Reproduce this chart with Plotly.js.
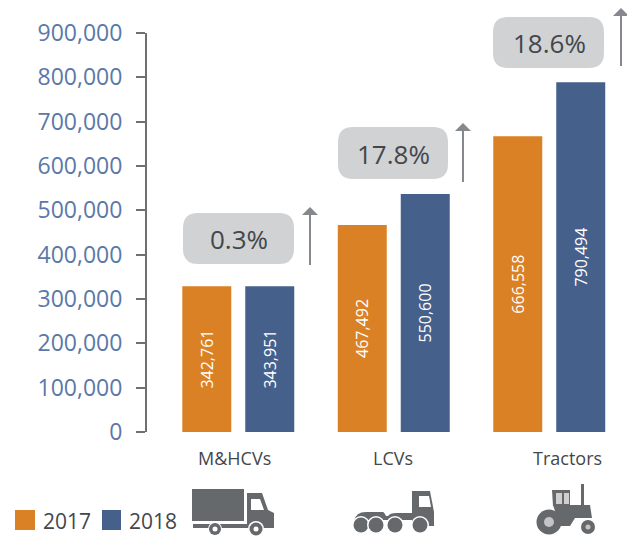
<!DOCTYPE html>
<html><head><meta charset="utf-8">
<script src="https://cdn.plot.ly/plotly-3.0.1.min.js"></script>
<style>html,body{margin:0;padding:0;background:#fff}#c{width:627px;height:536px}</style>
</head><body><div id="c"></div>
<script>
const categories = ["M&HCVs", "LCVs", "Tractors"];
const seriesNames = ["2017", "2018"];
// Bar heights
const heights2017 = [329000, 467000, 667000];
const heights2018 = [329000, 537000, 789000];
// Values printed inside the bars
const labels2017 = ["342,761", "467,492", "666,558"];
const labels2018 = ["343,951", "550,600", "790,494"];
const growth = ["0.3%", "17.8%", "18.6%"];
const tickValues = [0,100000,200000,300000,400000,500000,600000,700000,800000,900000];
const tickLabels = ["0","100,000","200,000","300,000","400,000","500,000","600,000","700,000","800,000","900,000"];

const W=627,H=536,L=147,R=0,T=33,B=104;
const FONT='"Open Sans", "Noto Sans", sans-serif';
const px=x=>(x-L)/(W-L-R), py=y=>1-(y-T)/(H-T-B);
const ORANGE='#DB8125',BLUE='#46608C',GREY='#D0D2D4',ARROW='#85898D',TXT='#43474B',ICON='#66696C';

function pill(x0,y0,x1,y1,r){
  const X=px,Y=py;
  return {type:'path',xref:'paper',yref:'paper',layer:'below',fillcolor:GREY,line:{width:0},
   path:`M${X(x0+r)},${Y(y0)} L${X(x1-r)},${Y(y0)} Q${X(x1)},${Y(y0)} ${X(x1)},${Y(y0+r)} L${X(x1)},${Y(y1-r)} Q${X(x1)},${Y(y1)} ${X(x1-r)},${Y(y1)} L${X(x0+r)},${Y(y1)} Q${X(x0)},${Y(y1)} ${X(x0)},${Y(y1-r)} L${X(x0)},${Y(y0+r)} Q${X(x0)},${Y(y0)} ${X(x0+r)},${Y(y0)} Z`};
}
function arrow(x,y0,y1){
  return [{type:'line',xref:'paper',yref:'paper',x0:px(x),x1:px(x),y0:py(y0+6),y1:py(y1),line:{color:ARROW,width:2}},
   {type:'path',xref:'paper',yref:'paper',fillcolor:ARROW,line:{width:0},
    path:`M${px(x)},${py(y0)} L${px(x+8)},${py(y0+8)} L${px(x-8)},${py(y0+8)} Z`}];
}
function rect(x0,y0,x1,y1,c){return {type:'rect',xref:'paper',yref:'paper',x0:px(x0),x1:px(x1),y0:py(y1),y1:py(y0),fillcolor:c,line:{width:0}};}
function note(t,x,y,size,color){return {text:t,xref:'paper',yref:'paper',x:px(x),y:py(y),xanchor:'center',yanchor:'middle',showarrow:false,font:{family:FONT,size:size,color:color}};}

const shapes=[
 pill(183,213,294,264,15),pill(338,127,448,179,15),pill(493,17,604,68,15),
 ...arrow(310,207,265),...arrow(463,123,182),...arrow(621,8,66),
 rect(15,510,35,530,ORANGE),rect(102,510,121,530,BLUE)
];
const annotations=[
 note(growth[0],239,239,26,TXT),note(growth[1],393,154,26,TXT),note(growth[2],549,43,26,TXT),
 note(categories[0],234,458,18,TXT),note(categories[1],392.5,458,18,TXT),note(categories[2],567,458,18,TXT),
 note(seriesNames[0],67,521,21,TXT),note(seriesNames[1],153,521,21,TXT)
];

const icons=`<svg xmlns="http://www.w3.org/2000/svg" width="${W}" height="${H}" viewBox="0 0 ${W} ${H}"><defs><filter id="b"><feGaussianBlur stdDeviation="0.5"/></filter></defs><g fill="${ICON}" filter="url(#b)">
<rect x="192" y="489" width="52" height="32"/><path d="M247 493H262L268 510L274 513V528H193V524H247Z"/>
<path fill="#fff" d="M251 499H260L264 510H251Z"/>
<circle cx="215" cy="529" r="7" fill="#fff"/><circle cx="215" cy="529" r="6"/><circle cx="215" cy="529" r="2.5" fill="#fff"/>
<circle cx="256" cy="529" r="8" fill="#fff"/><circle cx="256" cy="529" r="6.5"/><circle cx="256" cy="529" r="2.5" fill="#fff"/>
<path d="M412 491H430L434 512V526H412Z"/><path fill="#fff" d="M419 496H429L431 507H419Z"/>
<path d="M354 521Q356 511 368 512H383Q384 512 386 516H388Q390 513 396 513H414V520H358Z"/>
<circle cx="361" cy="525" r="9" fill="#fff"/><circle cx="361" cy="525" r="7.5"/><circle cx="376" cy="525" r="9" fill="#fff"/><circle cx="376" cy="525" r="7.5"/>
<circle cx="395" cy="525" r="9" fill="#fff"/><circle cx="395" cy="525" r="7.5"/><circle cx="420" cy="525" r="9" fill="#fff"/><circle cx="420" cy="525" r="7.5"/>
<path d="M552 490H570V506H553Z"/><path fill="#cfcfcf" d="M556 493H562V504H556ZM564 493H569V504H564Z"/>
<path d="M553 505H590L592 518H575L570 526H560Z"/><rect x="581" y="484" width="3" height="22"/>
<circle cx="549" cy="522" r="12.5"/><circle cx="549" cy="522" r="5" fill="#c4c4c4"/>
<circle cx="588" cy="527" r="8" fill="#fff"/><circle cx="588" cy="527" r="7"/><circle cx="588" cy="527" r="2.5" fill="#c4c4c4"/>
</g></svg>`;
const images=[{source:'data:image/svg+xml;charset=utf-8,'+encodeURIComponent(icons),xref:'paper',yref:'paper',
 x:px(0),y:py(0),sizex:W/(W-L-R),sizey:H/(H-T-B),xanchor:'left',yanchor:'top',sizing:'stretch',layer:'above'}];

const barText={family:FONT,size:16,color:'#ffffff'};
const mk=(name,y,text,color)=>({type:'bar',name,x:categories,y,text,marker:{color,line:{width:0}},
  textposition:'inside',insidetextanchor:'middle',textangle:-90,constraintext:'none',insidetextfont:barText,textfont:barText,cliponaxis:false,hoverinfo:'x+y+name'});
const traces=[mk(seriesNames[0],heights2017,labels2017,ORANGE),mk(seriesNames[1],heights2018,labels2018,BLUE)];

const layout={width:W,height:H,margin:{l:L,r:R,t:T,b:B,pad:0},paper_bgcolor:'#fff',plot_bgcolor:'#fff',showlegend:false,
 barmode:'group',bargap:0.19,bargroupgap:0.222,shapes,annotations,images,
 xaxis:{type:'category',categoryorder:'array',categoryarray:categories,range:[-0.587,2.5],showticklabels:false,ticks:'',showgrid:false,zeroline:false,showline:false},
 yaxis:{range:[0,900000],tickmode:'array',tickvals:tickValues,ticktext:tickLabels,ticks:'outside',ticklen:9,tickwidth:2,tickcolor:'#6E7073',
  showline:true,linecolor:'#6E7073',linewidth:2,showgrid:false,zeroline:false,ticklabelstandoff:9,
  tickfont:{family:FONT,size:23,color:'#5A78A8'}}};
Plotly.newPlot('c',traces,layout,{displayModeBar:false,staticPlot:true});
</script></body></html>
